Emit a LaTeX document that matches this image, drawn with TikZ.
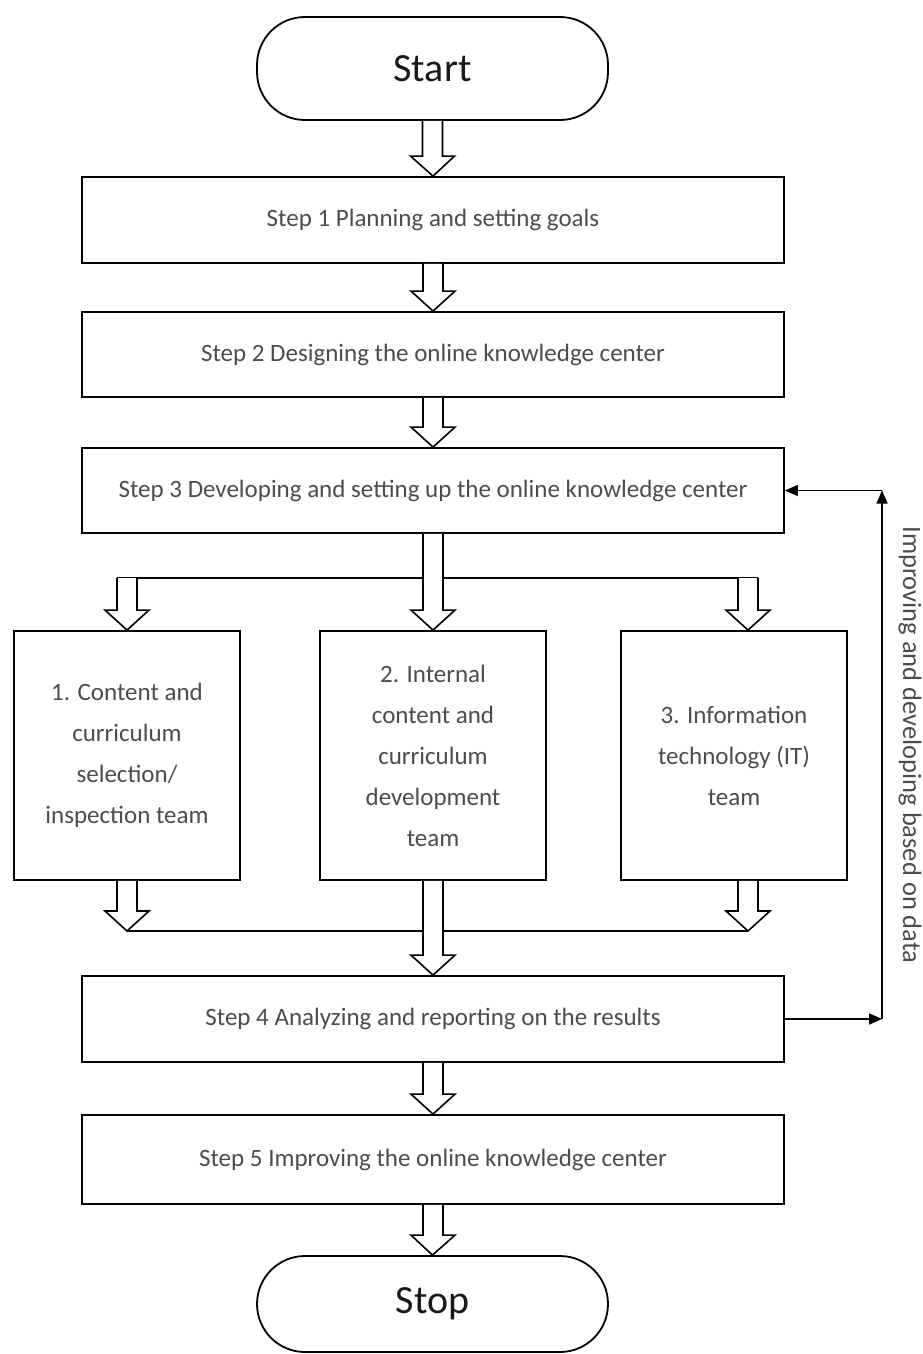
\documentclass[tikz,border=0pt]{standalone}
\usepackage{fontspec}
\setmainfont{Carlito}
\usetikzlibrary{arrows.meta,calc}
\newcommand\hollowarrow[2]{%
  \path[hollow] let \p1=(#1), \p2=(#2) in
    (\x1-10pt,\y1) -- (\x1-10pt,\y2+20pt) -- (\x1-22pt,\y2+20pt) -- (\x2,\y2)
    -- (\x1+22pt,\y2+20pt) -- (\x1+10pt,\y2+20pt) -- (\x1+10pt,\y1);}
\begin{document}
\begin{tikzpicture}[x=1pt,y=-1pt,
  stepbox/.style={draw, line width=1.8pt, rectangle, minimum width=702pt,
    minimum height=86pt, inner sep=0pt, font=\fontsize{25}{41}\selectfont, text=black!70},
  teambox/.style={draw, line width=1.8pt, rectangle, minimum width=226pt,
    minimum height=249pt, inner sep=0pt, align=center,
    font=\fontsize{25}{41}\selectfont, text=black!70},
  term/.style={draw, line width=1.8pt, rectangle, rounded corners=48pt,
    minimum width=351pt, inner sep=0pt, font=\fontsize{40}{44}\selectfont, text=black!90},
  hollow/.style={draw, fill=white, line width=1.6pt, line join=miter},
  conn/.style={line width=1.6pt},
  fb/.style={line width=1.6pt, -{Triangle[length=13pt,width=11pt]}},
  lbl/.style={font=\fontsize{26.5}{28}\selectfont, text=black!70}]
\useasboundingbox (0,0) rectangle (922,1354);

% terminals
\node[term, minimum height=103pt] (start) at (432.5,68.5) {Start};
\node[term, minimum height=96pt] (stop) at (432.5,1304) {Stop};

% steps
\node[stepbox] (s1) at (433,220) {Step 1 Planning and setting goals};
\node[stepbox, minimum height=85pt] (s2) at (433,354.5) {Step 2 Designing the online knowledge center};
\node[stepbox, minimum height=85pt] (s3) at (433,490.5) {Step 3 Developing and setting up the online knowledge center};
\node[stepbox] (s4) at (433,1019) {Step 4 Analyzing and reporting on the results};
\node[stepbox, minimum height=89pt] (s5) at (433,1159.5) {Step 5 Improving the online knowledge center};

% teams
\node[teambox] (b1) at (127,755.5) {1. Content and\\curriculum\\selection/\\inspection team};
\node[teambox] (b2) at (433,755.5) {2. Internal\\content and\\curriculum\\development\\team};
\node[teambox] (b3) at (734,755.5) {3. Information\\technology (IT)\\team};

% junction coordinates
\coordinate (brL) at (127,578);
\coordinate (brR) at (748,578);
\coordinate (jL) at (127,931);
\coordinate (jR) at (748,931);
\coordinate (fbT) at (882,490.5);
\coordinate (fbB) at (882,1019);

% main chain arrows
\hollowarrow{start.south}{s1.north}
\hollowarrow{s1.south}{s2.north}
\hollowarrow{s2.south}{s3.north}
\hollowarrow{s4.south}{s5.north}
\hollowarrow{s5.south}{stop.north}

% branching
\draw[conn] ($(brL)+(-10,0)$) -- ($(brR)+(10,0)$);
\hollowarrow{s3.south}{b2.north}
\hollowarrow{brL}{b1.north}
\hollowarrow{brR}{b3.north -| brR}

% merging
\draw[conn] (jL) -- (jR);
\hollowarrow{b1.south}{jL}
\hollowarrow{b3.south -| jR}{jR}
\hollowarrow{b2.south}{s4.north}

% feedback
\draw[fb] (s4.east) -- (fbB);
\draw[fb] (fbB) -- (fbT);
\draw[fb] (fbT) -- (s3.east);
\node[lbl, rotate=-90] (fbl) at (910,745) {Improving and developing based on data};
\end{tikzpicture}
\end{document}
